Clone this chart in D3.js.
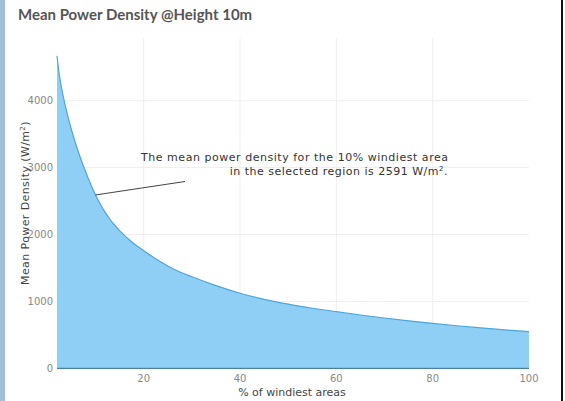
<!DOCTYPE html>
<html><head><meta charset="utf-8">
<script src="https://cdn.jsdelivr.net/npm/d3@7"></script>
<style>html,body{margin:0;padding:0;background:#fff;overflow:hidden}</style>
</head><body>
<script>
const percents = [2,2.5,3,4,5,6,7,8,9,10,11,12,13,14,15,16,17,18,19,20,22,25,27.5,30,35,40,45,50,55,60,65,70,75,80,85,90,95,100];
const densities = [4670,4380,4171,3841,3566,3330,3118,2926,2751,2591,2451,2331,2228,2138,2058,1986,1921,1862,1808,1758,1660,1530,1440,1368,1236,1122,1030,958,898,846,797,752,710,671,636,604,574,547];
const xTicks = [20,40,60,80,100];
const yTicks = [0,1000,2000,3000,4000];
const titleText = "Mean Power Density @Height 10m";
const xTitle = "% of windiest areas";
const annLines = ["The mean power density for the 10% windiest area", "in the selected region is 2591 W/m", "2", "."];
const annPoint = [10, 2591];

const W = 565, H = 401;
const svg = d3.select("body").append("svg").attr("width", W).attr("height", H);
svg.append("rect").attr("width", W).attr("height", H).attr("fill", "#fff");
svg.append("rect").attr("x", 0).attr("y", 0).attr("width", 5).attr("height", H).attr("fill", "#a4bdd6");
svg.append("rect").attr("x", 561).attr("y", 0).attr("width", 2).attr("height", H).attr("fill", "#111");

const x = d3.scaleLinear().domain([d3.min(percents), 100]).range([57, 529]);
const y = d3.scaleLinear().domain([0, 4937]).range([368.3, 38]);

const data = percents.map((p, i) => ({p, v: densities[i]}));

// grid
svg.append("g").selectAll("line").data(xTicks.filter(t => t < 100)).join("line")
  .attr("x1", d => x(d)).attr("x2", d => x(d)).attr("y1", y.range()[1]).attr("y2", y(0))
  .attr("stroke", "#eee").attr("stroke-width", 1);
svg.append("g").selectAll("line").data(yTicks.filter(t => t > 0)).join("line")
  .attr("x1", x.range()[0]).attr("x2", x.range()[1]).attr("y1", d => y(d)).attr("y2", d => y(d))
  .attr("stroke", "#eee").attr("stroke-width", 1);

// area
const area = d3.area().x(d => x(d.p)).y0(y(0)).y1(d => y(d.v)).curve(d3.curveMonotoneX);
svg.append("path").datum(data).attr("d", area).attr("fill", "#8fcff6");
const line = d3.line().x(d => x(d.p)).y(d => y(d.v)).curve(d3.curveMonotoneX);
svg.append("path").datum(data).attr("d", line).attr("fill", "none").attr("stroke", "#4aa6dd").attr("stroke-width", 1.2);

// zero line
svg.append("line").attr("x1", x.range()[0]).attr("x2", x.range()[1]).attr("y1", y(0)).attr("y2", y(0))
  .attr("stroke", "#4a7fa8").attr("stroke-width", 1.2);

// tick labels
const tf = "'DejaVu Sans', Verdana, sans-serif";
svg.append("g").selectAll("text").data(xTicks).join("text")
  .attr("x", d => x(d)).attr("y", 382).attr("text-anchor", "middle")
  .attr("font-family", tf).attr("font-size", 10).attr("fill", "#888").text(d => d);
svg.append("g").selectAll("text").data(yTicks).join("text")
  .attr("x", 53).attr("y", d => y(d) + 3.5).attr("text-anchor", "end")
  .attr("font-family", tf).attr("font-size", 10).attr("fill", "#888").text(d => d);

// axis titles
svg.append("text").attr("x", 292).attr("y", 396).attr("text-anchor", "middle")
  .attr("font-family", tf).attr("font-size", 11).attr("fill", "#444").text(xTitle);
const yt = svg.append("text").attr("transform", "translate(29,203) rotate(-90)").attr("text-anchor", "middle")
  .attr("font-family", tf).attr("font-size", 11).attr("fill", "#444").attr("letter-spacing", 0.4);
yt.append("tspan").text("Mean Power Density (W/m");
yt.append("tspan").attr("font-size", 7).attr("dy", -4).text("2");
yt.append("tspan").attr("dy", 4).text(")");

// title
svg.append("text").attr("x", 18).attr("y", 20).attr("font-family", "Lato, 'Open Sans', sans-serif")
  .attr("font-weight", "bold").attr("font-size", 15).attr("fill", "#555").text(titleText);

// annotation
svg.append("line").attr("x1", x(annPoint[0])).attr("y1", y(annPoint[1])).attr("x2", 185).attr("y2", 181.5)
  .attr("stroke", "#444").attr("stroke-width", 1);
const ann = svg.append("g").attr("font-family", tf).attr("font-size", 11).attr("fill", "#333");
ann.append("text").attr("x", 141).attr("y", 161).attr("textLength", 307).attr("lengthAdjust", "spacing").text(annLines[0]);
const a2 = ann.append("text").attr("x", 448).attr("y", 175).attr("text-anchor", "end").attr("letter-spacing", 0.5);
a2.append("tspan").text(annLines[1]);
a2.append("tspan").attr("font-size", 7).attr("dy", -4).text(annLines[2]);
a2.append("tspan").attr("dy", 4).text(annLines[3]);
</script>
</body></html>
